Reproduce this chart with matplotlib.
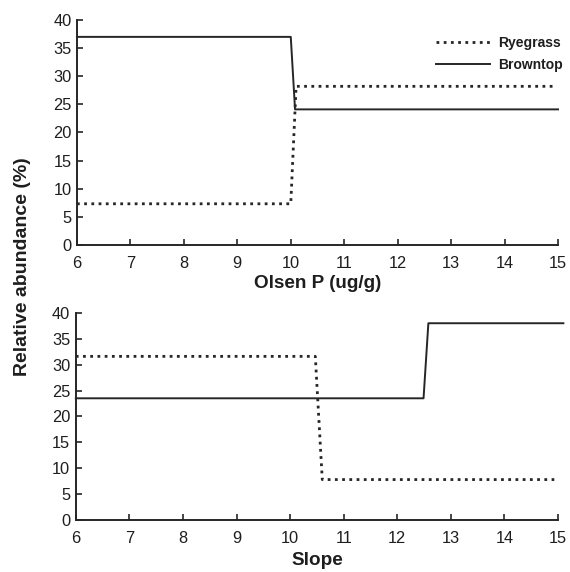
import matplotlib.pyplot as plt

plt.rcParams['font.family'] = ['Liberation Sans', 'DejaVu Sans']

# --- data ---
olsen_x_rye = [6, 10.0, 10.08, 10.1, 14.93]
olsen_y_rye = [7.3, 7.3, 24.0, 28.2, 28.2]
olsen_x_brown = [6, 10.0, 10.08, 15.0]
olsen_y_brown = [37.0, 37.0, 24.1, 24.1]

slope_x_rye = [6, 10.47, 10.6, 14.93]
slope_y_rye = [31.6, 31.6, 7.8, 7.8]
slope_x_brown = [6, 12.49, 12.58, 15.1]
slope_y_brown = [23.5, 23.5, 38.0, 38.0]

x_ticks = list(range(6, 16))
y_ticks = list(range(0, 45, 5))

line_col = '#262626'
text_col = '#1e1e1e'

fig = plt.figure(figsize=(5.7, 5.72), dpi=100)
ax1 = fig.add_axes([0.135, 0.572, 0.844, 0.393])
ax2 = fig.add_axes([0.133, 0.091, 0.846, 0.362])

dot_style = (0, (1, 1.6))

ax1.plot(olsen_x_rye, olsen_y_rye, color=line_col, lw=2.0, ls=dot_style, label='Ryegrass')
ax1.plot(olsen_x_brown, olsen_y_brown, color=line_col, lw=1.4, label='Browntop')
ax2.plot(slope_x_rye, slope_y_rye, color=line_col, lw=2.0, ls=dot_style)
ax2.plot(slope_x_brown, slope_y_brown, color=line_col, lw=1.4)

for ax in (ax1, ax2):
    ax.set_xlim(6, 15)
    ax.set_ylim(0, 40)
    ax.set_xticks(x_ticks)
    ax.set_yticks(y_ticks)
    ax.spines['top'].set_visible(False)
    ax.spines['right'].set_visible(False)
    for s in ('left', 'bottom'):
        ax.spines[s].set_color(line_col)
        ax.spines[s].set_linewidth(1.4)
    ax.tick_params(direction='in', length=4, width=1.2, color=line_col,
                   labelsize=11.8, labelcolor=text_col)
    ax.tick_params(axis='x', pad=8)
    ax.tick_params(axis='y', pad=4)
    for ln in ax.lines:
        ln.set_clip_on(False)

ax1.set_xlabel('Olsen P (ug/g)', fontsize=13.6, fontweight='bold', color=text_col, labelpad=3)
ax2.set_xlabel('Slope', fontsize=13.6, fontweight='bold', color=text_col, labelpad=4)

leg = ax1.legend(loc='upper right', bbox_to_anchor=(1.035, 0.985), frameon=False,
                 prop={'weight': 'bold', 'size': 10}, handlelength=3.9,
                 handletextpad=0.55, labelspacing=0.55)
for t in leg.get_texts():
    t.set_color(text_col)

fig.text(0.040, 0.533, 'Relative abundance (%)', rotation=90, ha='center', va='center',
         fontsize=14, fontweight='bold', color=text_col)

fig.savefig('out.png', dpi=100)
